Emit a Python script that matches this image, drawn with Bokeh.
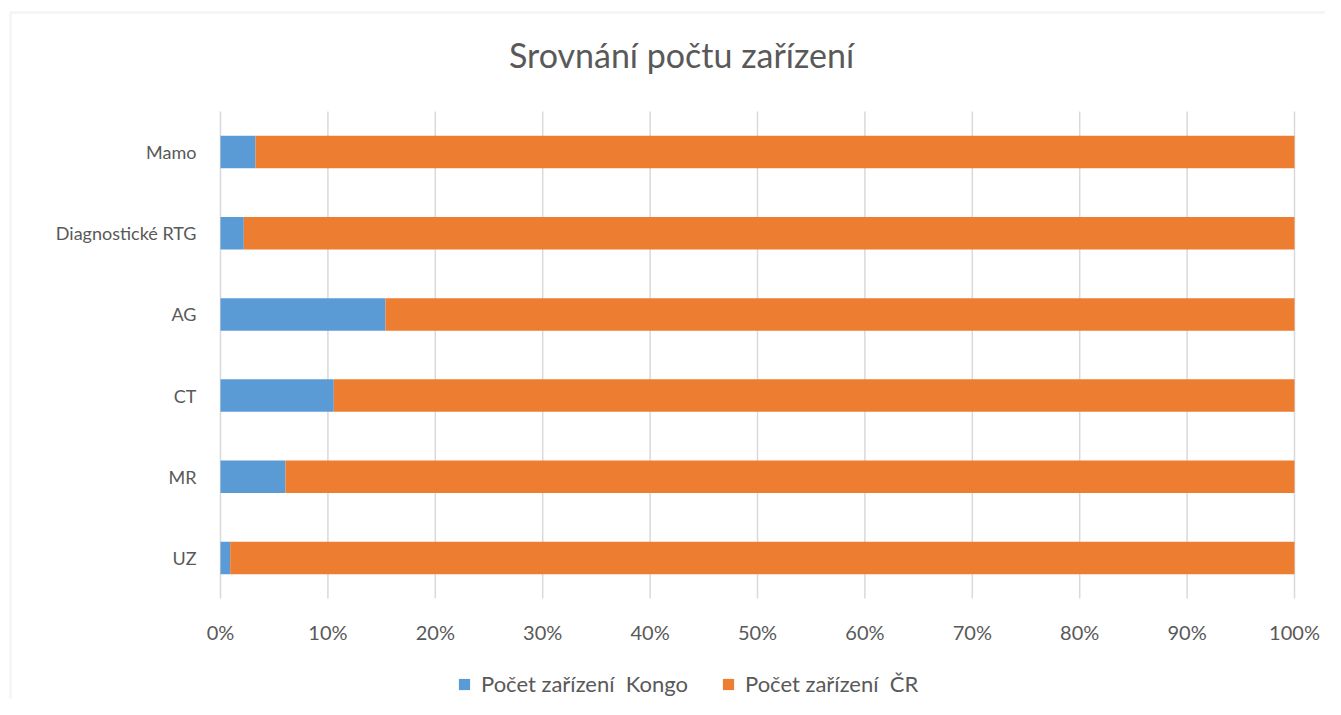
from bokeh.plotting import figure
from bokeh.models import (ColumnDataSource, Range1d, Legend, LegendItem, Label,
                          BoxAnnotation)
from bokeh.embed import file_html
from bokeh.resources import INLINE

# ---------------- data ----------------
categories = ["UZ", "MR", "CT", "AG", "Diagnostické RTG", "Mamo"]
kongo_pct = [0.9, 6.05, 10.55, 15.36, 2.17, 3.26]
cr_pct = [100 - v for v in kongo_pct]
series_names = ["Počet zařízení  Kongo", "Počet zařízení  ČR"]
x_ticks = [0, 10, 20, 30, 40, 50, 60, 70, 80, 90, 100]
x_tick_labels = [f"{t}%" for t in x_ticks]
title_text = "Srovnání počtu zařízení"

# ---------------- style / layout ----------------
BLUE = "#5B9BD5"
ORANGE = "#ED7D31"
GRID = "#D9D9D9"
TEXT = "#595959"
FONT = "Lato"

W, H = 1325, 699
# plot area in pixels
PL, PR, PT, PB = 220, 1294, 111, 598
n = len(categories)
xs = (PR - PL) / 100.0
ys = (PB - PT) / n

def dx(px):
    return (px - PL) / xs

def dy(py):
    return (PB - py) / ys

p = figure(width=W, height=H, output_backend="svg", toolbar_location=None,
           x_range=Range1d(dx(0), dx(W)), y_range=Range1d(dy(H), dy(0)),
           x_axis_location=None, y_axis_location=None,
           min_border=0, min_border_left=0, min_border_right=0,
           min_border_top=0, min_border_bottom=0)
p.outline_line_color = None
p.grid.visible = False

# chart area border (left and top visible)
p.add_layout(BoxAnnotation(left=dx(10), top=dy(12), right=dx(W + 50), bottom=dy(H + 50),
                           fill_alpha=0, line_color=GRID, line_width=2.5))

# vertical gridlines at tick positions
p.segment(x0=x_ticks, x1=x_ticks, y0=[0] * len(x_ticks), y1=[n] * len(x_ticks),
          line_color=GRID, line_width=1.5)

ypos = [i + 0.5 for i in range(n)]
src = ColumnDataSource(dict(y=ypos, kongo=kongo_pct, cr=cr_pct))
r = p.hbar_stack(["kongo", "cr"], y="y", height=0.4, color=[BLUE, ORANGE],
                 line_color=None, source=src)

# x tick labels
p.text(x=x_ticks, y=[dy(631)] * len(x_ticks), text=x_tick_labels,
       text_font={"value": FONT}, text_font_size="20px", text_color=TEXT,
       text_align="center", text_baseline="middle")

# category labels
p.text(x=[dx(196)] * n, y=ypos, text=categories,
       text_font={"value": FONT}, text_font_size="18px", text_color=TEXT,
       text_align="right", text_baseline="middle")

# title
p.add_layout(Label(x=dx(681), y=dy(54), text=title_text, text_font=FONT,
                   text_font_size="34px", text_color=TEXT,
                   text_align="center", text_baseline="middle"))

legend = Legend(items=[LegendItem(label=series_names[0], renderers=[r[0]]),
                       LegendItem(label=series_names[1], renderers=[r[1]])],
                orientation="horizontal", location=(457, H - 697),
                glyph_width=14, glyph_height=14, label_standoff=10,
                label_width=215, spacing=25,
                label_text_font=FONT, label_text_font_size="22px", label_text_color=TEXT,
                border_line_color=None, background_fill_alpha=0,
                padding=0, margin=0)
p.add_layout(legend, "center")

open("out.html", "w").write(file_html(p, INLINE))
